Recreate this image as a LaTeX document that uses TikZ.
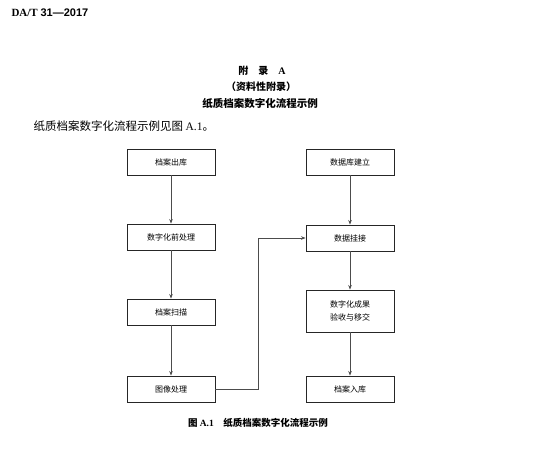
\documentclass[tikz,border=0pt]{standalone}
\usepackage{fontspec}
\setmainfont{Liberation Serif}
\newfontfamily\cjk{Noto Sans CJK SC}
\newfontfamily\hsans{Liberation Sans}
\usetikzlibrary{arrows.meta}
\begin{document}
\begin{tikzpicture}[x=1pt,y=-1pt,
  box/.style={draw=black!85,line width=0.9pt,minimum width=88pt,minimum height=26pt,inner sep=0pt,font=\cjk\fontsize{8}{11}\selectfont,align=center},
  conn/.style={draw=black!70,line width=0.7pt,-{Stealth[length=4.5pt,width=3.5pt]}}]
\useasboundingbox (0,0) rectangle (553,466);
\node[anchor=west,font=\fontsize{11}{13}\selectfont] (hdr) at (8,13) {\textbf{DA/T} {\hsans\bfseries 31—2017}};
\node[font=\cjk\bfseries\fontsize{10}{12}\selectfont] (t1) at (262,71) {附\quad 录\quad {\rmfamily\bfseries A}};
\node[font=\cjk\bfseries\fontsize{10}{12}\selectfont] (t2) at (261,87) {（资料性附录）};
\node[font=\cjk\bfseries\fontsize{10.5}{12}\selectfont] (t3) at (260,103) {纸质档案数字化流程示例};
\node[anchor=west,font=\cjk\fontsize{11.5}{13}\selectfont] (body) at (30,126) {纸质档案数字化流程示例见图 {\rmfamily A.1}。};
\node[box] (a1) at (171,162) {档案出库};
\node[box] (a2) at (171,237) {数字化前处理};
\node[box] (a3) at (171,312) {档案扫描};
\node[box] (a4) at (171,389) {图像处理};
\node[box] (b1) at (350,162) {数据库建立};
\node[box] (b2) at (350,238) {数据挂接};
\node[box,minimum height=42pt] (b3) at (350,311) {数字化成果\\[2pt]验收与移交};
\node[box] (b4) at (350,389) {档案入库};
\coordinate (k1) at (258,389);
\coordinate (k2) at (258,238);
\draw[conn] (a1) -- (a2);
\draw[conn] (a2) -- (a3);
\draw[conn] (a3) -- (a4);
\draw[conn] (a4.east) -- (k1) -- (k2) -- (b2.west);
\draw[conn] (b1) -- (b2);
\draw[conn] (b2) -- (b3);
\draw[conn] (b3) -- (b4);
\node[font=\cjk\bfseries\fontsize{9.5}{12}\selectfont] (cap) at (258,423) {图 {\rmfamily A.1}\quad 纸质档案数字化流程示例};
\end{tikzpicture}
\end{document}
